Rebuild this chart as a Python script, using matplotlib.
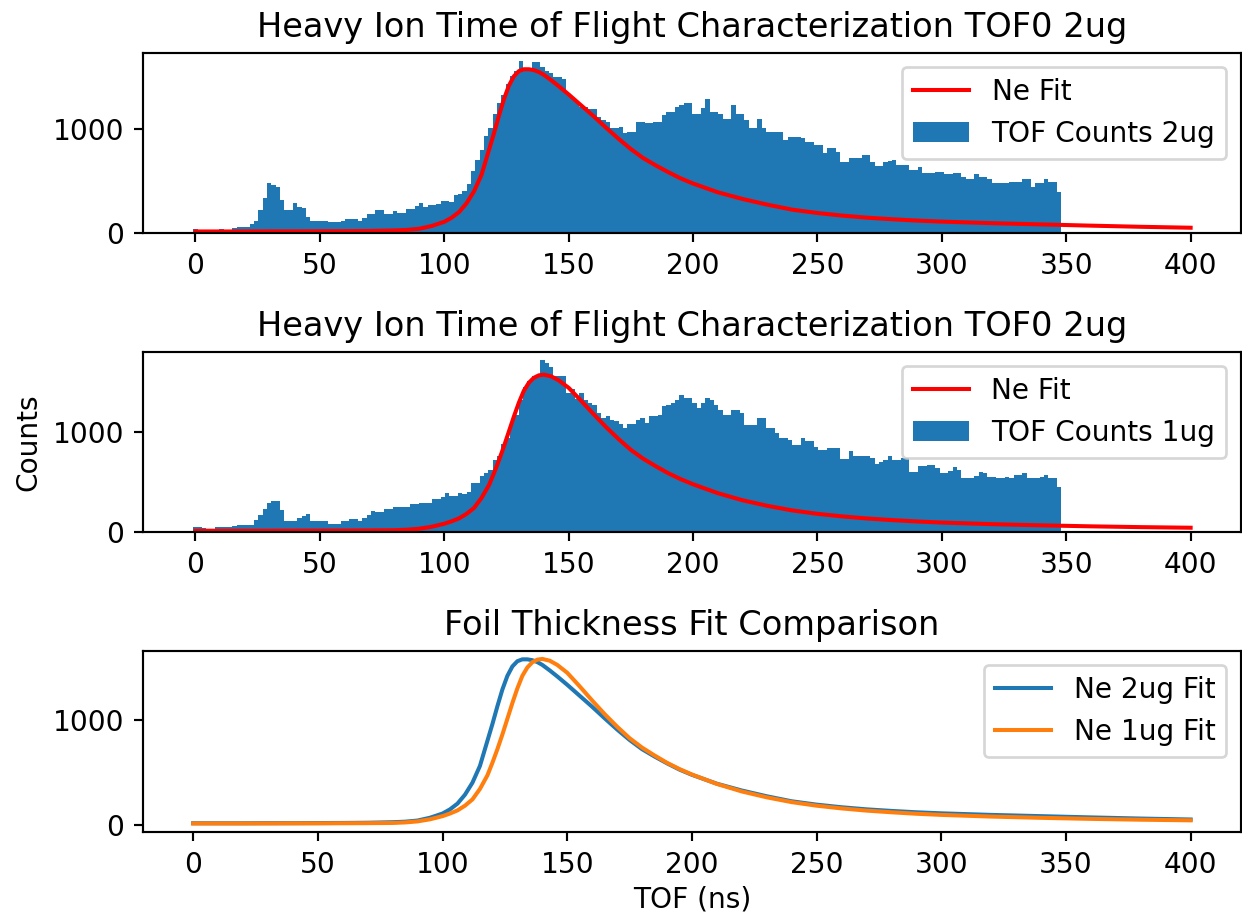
import matplotlib
matplotlib.use('Agg')
import matplotlib.pyplot as plt
import numpy as np

plt.rcParams['font.size'] = 10.4

# TOF histogram binning (ns), 200 bins
bin_edges = np.linspace(-0.9, 348.0, 201)
bin_centers = 0.5 * (bin_edges[:-1] + bin_edges[1:])

# counts per bin, 2ug foil
counts_2ug = [
    32, 30, 28, 30, 27, 29, 31, 28, 30, 45,
    55, 58, 58, 80, 113, 218, 331, 476, 460, 444,
    315, 218, 218, 283, 250, 235, 155, 116, 116, 116,
    116, 100, 100, 100, 116, 132, 132, 132, 116, 145,
    177, 177, 218, 218, 180, 180, 209, 193, 193, 232,
    232, 260, 290, 251, 267, 267, 277, 309, 309, 293,
    364, 373, 400, 470, 600, 700, 800, 930, 1006, 1150,
    1250, 1330, 1440, 1510, 1560, 1655, 1580, 1590, 1650, 1645,
    1600, 1560, 1537, 1500, 1500, 1480, 1330, 1300, 1270, 1215,
    1215, 1190, 1190, 1120, 1090, 1070, 1006, 1006, 1020, 960,
    975, 975, 1070, 1070, 1055, 1055, 1070, 1070, 1135, 1167,
    1167, 1215, 1230, 1250, 1250, 1150, 1150, 1200, 1295, 1167,
    1167, 1150, 1100, 1100, 1230, 1150, 1150, 1090, 1006, 1006,
    1100, 1006, 975, 975, 975, 975, 895, 925, 925, 925,
    910, 877, 877, 845, 845, 765, 813, 813, 780, 685,
    685, 717, 717, 717, 750, 750, 685, 645, 645, 685,
    690, 700, 652, 652, 652, 604, 604, 636, 578, 578,
    578, 588, 588, 565, 565, 578, 578, 540, 523, 523,
    570, 540, 540, 523, 482, 482, 482, 482, 492, 492,
    492, 523, 523, 443, 475, 475, 523, 492, 492, 395,
]

# counts per bin, 1ug foil
counts_1ug = [
    51, 51, 40, 17, 17, 44, 44, 44, 44, 60,
    71, 71, 71, 71, 118, 168, 230, 293, 310, 310,
    219, 111, 111, 111, 140, 162, 175, 111, 111, 111,
    111, 74, 74, 74, 111, 111, 125, 125, 111, 135,
    168, 209, 199, 199, 226, 226, 246, 246, 246, 246,
    280, 280, 293, 293, 293, 330, 330, 354, 394, 364,
    364, 394, 380, 404, 495, 495, 560, 596, 620, 724,
    760, 880, 943, 1094, 1180, 1330, 1460, 1515, 1566, 1566,
    1727, 1700, 1660, 1572, 1572, 1572, 1397, 1438, 1337, 1397,
    1330, 1296, 1279, 1200, 1150, 1162, 1128, 1111, 1080, 1044,
    1088, 1088, 1128, 1145, 1094, 1162, 1162, 1178, 1263, 1280,
    1296, 1330, 1380, 1347, 1347, 1296, 1246, 1296, 1347, 1330,
    1280, 1229, 1178, 1178, 1229, 1229, 1195, 1077, 1077, 1077,
    1145, 1145, 1044, 1044, 993, 943, 943, 926, 875, 875,
    943, 909, 909, 850, 825, 825, 842, 842, 842, 731,
    731, 808, 758, 758, 758, 758, 741, 683, 707, 724,
    758, 724, 724, 741, 741, 606, 606, 657, 657, 673,
    673, 640, 589, 589, 610, 650, 623, 539, 539, 539,
    560, 606, 589, 556, 556, 539, 539, 556, 539, 572,
    572, 589, 539, 539, 545, 556, 572, 539, 539, 455,
]

# Ne fit curves
fit_tof = [0, 10, 20, 30, 40, 50, 60, 70, 80, 85,
           90, 95, 100, 103, 106, 109, 112, 115, 118, 120,
           122, 124, 126, 128, 130, 132, 134, 136, 138, 140,
           143, 146, 150, 155, 160, 165, 170, 175, 180, 185,
           190, 195, 200, 210, 220, 230, 240, 250, 260, 270,
           280, 290, 300, 320, 340, 360, 380, 400]
fit_2ug = [12, 12, 12, 13, 13, 14, 15, 17, 22, 27,
           38, 65, 105, 145, 200, 285, 400, 560, 800, 960,
           1130, 1290, 1420, 1510, 1560, 1578, 1578, 1570, 1552, 1525,
           1472, 1415, 1335, 1230, 1125, 1015, 908, 808, 720, 650,
           585, 525, 475, 390, 325, 270, 222, 190, 165, 145,
           130, 117, 107, 92, 80, 68, 57, 48]
fit_1ug = [10, 10, 10, 10, 11, 11, 12, 13, 15, 20,
           30, 50, 80, 105, 135, 180, 240, 340, 470, 590,
           720, 860, 1010, 1160, 1300, 1420, 1500, 1550, 1575, 1582,
           1565, 1525, 1450, 1320, 1185, 1055, 935, 825, 735, 660,
           590, 530, 478, 388, 316, 260, 214, 180, 154, 133,
           117, 103, 92, 76, 64, 54, 46, 40]

title_hist = 'Heavy Ion Time of Flight Characterization TOF0 2ug'


def hist_panel(ax, counts, fit, label):
    _, _, bars = ax.hist(bin_centers, bins=bin_edges, weights=counts, label=label)
    line, = ax.plot(fit_tof, fit, color='r', label='Ne Fit')
    ax.legend(handles=[line, bars[0]], loc='upper right')
    ax.set_title(title_hist)


W, H = 1242, 914
fig = plt.figure(figsize=(W / 194, H / 194), dpi=194)

left = 143.3 / W
width = (1240.5 - 143.3) / W
ax1 = fig.add_axes([left, 1 - 232.7 / H, width, 180.0 / H])
ax2 = fig.add_axes([left, 1 - 531.7 / H, width, 180.0 / H])
ax3 = fig.add_axes([left, 1 - 831.7 / H, width, 181.0 / H])

hist_panel(ax1, counts_2ug, fit_2ug, 'TOF Counts 2ug')
hist_panel(ax2, counts_1ug, fit_1ug, 'TOF Counts 1ug')
ax2.set_ylabel('Counts')

ax3.plot(fit_tof, fit_2ug, label='Ne 2ug Fit')
ax3.plot(fit_tof, fit_1ug, label='Ne 1ug Fit')
ax3.legend(loc='upper right')
ax3.set_title('Foil Thickness Fit Comparison')
ax3.set_xlabel('TOF (ns)', labelpad=2.5)

fig.savefig('out.png', dpi=194)
